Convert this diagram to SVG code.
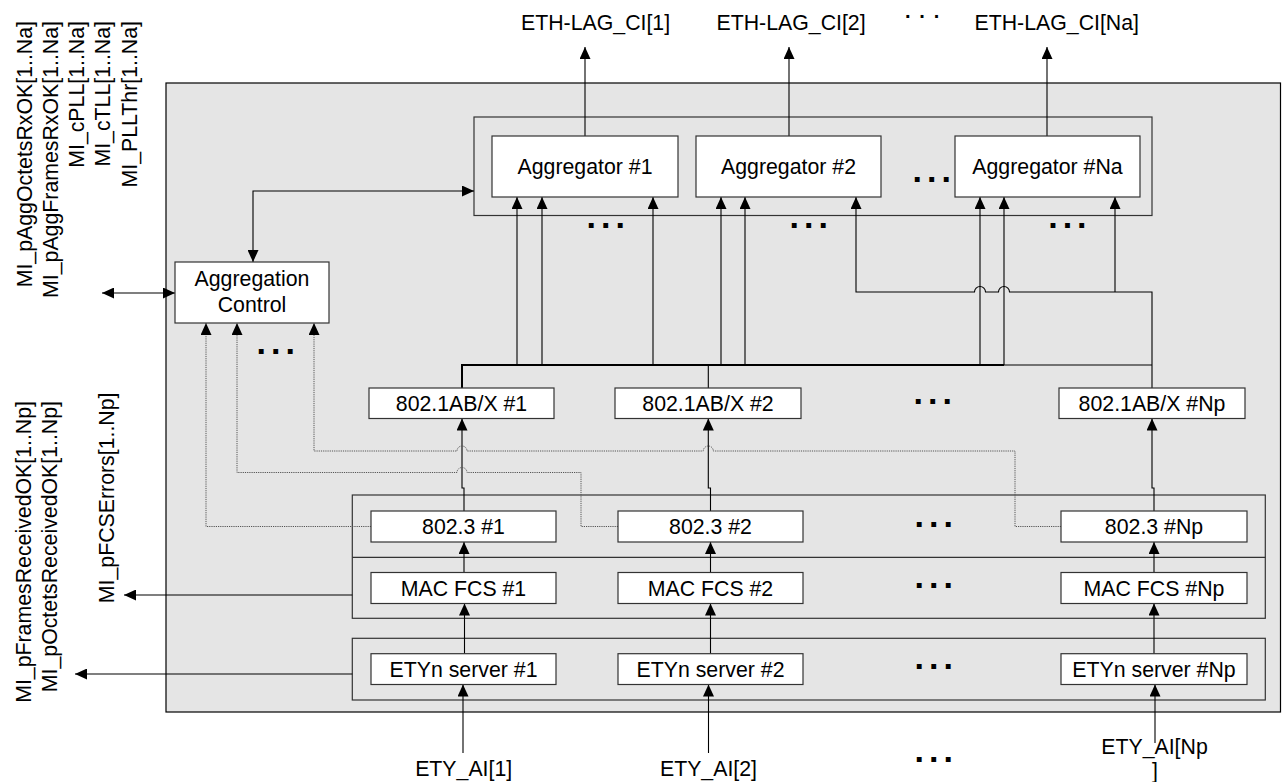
<svg xmlns="http://www.w3.org/2000/svg" width="1282" height="782" viewBox="0 0 1282 782">
<style>
text{font-family:"Liberation Sans",Arial,sans-serif;font-size:21.3px;fill:#000}
.c{text-anchor:middle}
.e{text-anchor:end}
.dots{font-family:"Liberation Sans",Arial,sans-serif;font-weight:bold;font-size:34px;letter-spacing:4.95px}
.dots-s{font-family:"Liberation Sans",Arial,sans-serif;font-weight:bold;font-size:20px;letter-spacing:8.8px}
.box{fill:#fff;stroke:#333;stroke-width:1.2}
.cont{fill:none;stroke:#333;stroke-width:1.2}
.w{fill:none;stroke:#000;stroke-width:1.1}
.bus{fill:none;stroke:#000;stroke-width:2}
.d{fill:none;stroke:#555;stroke-width:1;stroke-dasharray:1.2 1}
</style>
<defs>
<marker id="ah" markerUnits="userSpaceOnUse" markerWidth="12" markerHeight="11" refX="12" refY="5.5" orient="auto-start-reverse" viewBox="0 0 12 11">
<path d="M0,0 L12,5.5 L0,11 Z" fill="#000"/>
</marker>
</defs>
<rect width="1282" height="782" fill="#fff"/>
<rect id="outer" x="166" y="83" width="1114.5" height="629" fill="#e5e5e5" stroke="#000" stroke-width="1.2"/>

<g id="aggregator-group"><rect class="cont" x="474" y="117" width="678" height="98.5"/></g>
<g id="mac-container"><rect class="cont" x="352.3" y="495" width="913" height="123.3"/><line x1="352.3" y1="557.3" x2="1265.3" y2="557.3" stroke="#333" stroke-width="1.2"/></g>
<g id="ety-container"><rect class="cont" x="352.3" y="638.3" width="913" height="61.7"/></g>

<g id="connectors">
<path class="w" d="M585,136 V47" marker-end="url(#ah)"/>
<path class="w" d="M789,136 V47" marker-end="url(#ah)"/>
<path class="w" d="M1047,136 V47" marker-end="url(#ah)"/>
<path class="w" d="M474,191 H253 V262" marker-start="url(#ah)" marker-end="url(#ah)"/>
<path class="w" d="M102,293 H175" marker-start="url(#ah)" marker-end="url(#ah)"/>
<path class="bus" d="M462,388 V365 H1004"/>
<path class="w" d="M1004,365 H1152"/>
<path class="w" d="M708.3,388 V365"/>
<path class="w" d="M517,365 V197" marker-end="url(#ah)"/>
<path class="w" d="M542,365 V197" marker-end="url(#ah)"/>
<path class="w" d="M653,365 V197" marker-end="url(#ah)"/>
<path class="w" d="M721,365 V197" marker-end="url(#ah)"/>
<path class="w" d="M745,365 V197" marker-end="url(#ah)"/>
<path class="w" d="M980,365 V197" marker-end="url(#ah)"/>
<path class="w" d="M1004,365 V197" marker-end="url(#ah)"/>
<path class="w" d="M1152,388 V292 H1009.5 A5.5,5.5 0 0 0 998.5,292 H985.5 A5.5,5.5 0 0 0 974.5,292 H856 V197" marker-end="url(#ah)"/>
<path class="w" d="M1115,292 V197" marker-end="url(#ah)"/>
<path class="w" d="M464,511 V488 H462 V418.5" marker-end="url(#ah)"/>
<path class="w" d="M710.5,511 V488 H708.3 V418.5" marker-end="url(#ah)"/>
<path class="w" d="M1154,511 V488 H1152 V418.5" marker-end="url(#ah)"/>
<path class="w" d="M464,572.5 V542" marker-end="url(#ah)"/>
<path class="w" d="M710.5,572.5 V542" marker-end="url(#ah)"/>
<path class="w" d="M1154,572.5 V542" marker-end="url(#ah)"/>
<path class="w" d="M464.5,653.7 V603.5" marker-end="url(#ah)"/>
<path class="w" d="M710.5,653.7 V603.5" marker-end="url(#ah)"/>
<path class="w" d="M1154,653.7 V603.5" marker-end="url(#ah)"/>
<path class="w" d="M463,753 V684.5" marker-end="url(#ah)"/>
<path class="w" d="M708.5,753 V684.5" marker-end="url(#ah)"/>
<path class="w" d="M1155,743 V684.5" marker-end="url(#ah)"/>
<path class="w" d="M352.3,595 H124" marker-end="url(#ah)"/>
<path class="w" d="M352.3,674 H75" marker-end="url(#ah)"/>
<path class="d" d="M371,526.5 H206 V323" marker-end="url(#ah)"/>
<path class="d" d="M618,526.5 H581 V472.5 H467 A5,5 0 0 0 457,472.5 H237 V323" marker-end="url(#ah)"/>
<path class="d" d="M1061,526.5 H1015 V451 H713.3 A5,5 0 0 0 703.3,451 H467 A5,5 0 0 0 457,451 H314 V323" marker-end="url(#ah)"/>
</g>

<g id="agg1"><rect class="box" x="492" y="136" width="186" height="61"/><text class="c" x="585" y="174">Aggregator #1</text></g>
<g id="agg2"><rect class="box" x="696" y="136" width="185" height="61"/><text class="c" x="788.5" y="174">Aggregator #2</text></g>
<g id="aggNa"><rect class="box" x="955" y="136" width="185" height="61"/><text class="c" x="1047.5" y="174">Aggregator #Na</text></g>
<g id="aggctrl"><rect class="box" x="175" y="262" width="154" height="61" stroke="#000"/><text class="c" x="252" y="286">Aggregation</text><text class="c" x="252" y="312">Control</text></g>

<g id="ab1"><rect class="box" x="369" y="388" width="185" height="30.5"/><text class="c" x="461.5" y="411">802.1AB/X #1</text></g>
<g id="ab2"><rect class="box" x="615" y="388" width="186" height="30.5"/><text class="c" x="708" y="411">802.1AB/X #2</text></g>
<g id="abNp"><rect class="box" x="1059" y="388" width="186" height="30.5"/><text class="c" x="1152" y="411">802.1AB/X #Np</text></g>

<g id="e1"><rect class="box" x="371" y="511" width="185" height="31"/><text class="c" x="463.5" y="534">802.3 #1</text></g>
<g id="e2"><rect class="box" x="618" y="511" width="185" height="31"/><text class="c" x="710.5" y="534">802.3 #2</text></g>
<g id="eNp"><rect class="box" x="1061" y="511" width="186" height="31"/><text class="c" x="1154" y="534">802.3 #Np</text></g>

<g id="m1"><rect class="box" x="371" y="572.5" width="185" height="31"/><text class="c" x="463.5" y="595.5">MAC FCS #1</text></g>
<g id="m2"><rect class="box" x="618" y="572.5" width="185" height="31"/><text class="c" x="710.5" y="595.5">MAC FCS #2</text></g>
<g id="mNp"><rect class="box" x="1061" y="572.5" width="186" height="31"/><text class="c" x="1154" y="595.5">MAC FCS #Np</text></g>

<g id="s1"><rect class="box" x="371" y="653.7" width="185" height="30.8"/><text class="c" x="463.5" y="676.7">ETYn server #1</text></g>
<g id="s2"><rect class="box" x="618" y="653.7" width="185" height="30.8"/><text class="c" x="710.5" y="676.7">ETYn server #2</text></g>
<g id="sNp"><rect class="box" x="1061" y="653.7" width="186" height="30.8"/><text class="c" x="1154" y="676.7">ETYn server #Np</text></g>

<g id="labels">
<text x="521" y="29.5">ETH-LAG_CI[1]</text>
<text x="716.5" y="29.5">ETH-LAG_CI[2]</text>
<text x="974.5" y="29.5">ETH-LAG_CI[Na]</text>
<text class="c" x="463.7" y="776">ETY_AI[1]</text>
<text class="c" x="708.5" y="776">ETY_AI[2]</text>
<text class="c" x="1154.5" y="754">ETY_AI[Np</text>
<text class="c" x="1155" y="778">]</text>
<text class="e" transform="translate(31.5,21) rotate(-90)">MI_pAggOctetsRxOK[1..Na]</text>
<text class="e" transform="translate(58,21) rotate(-90)">MI_pAggFramesRxOK[1..Na]</text>
<text class="e" transform="translate(84,21) rotate(-90)">MI_cPLL[1..Na]</text>
<text class="e" transform="translate(110,21) rotate(-90)">MI_cTLL[1..Na]</text>
<text class="e" transform="translate(137,21) rotate(-90)">MI_PLLThr[1..Na]</text>
<text class="e" transform="translate(30.7,401) rotate(-90)">MI_pFramesReceivedOK[1..Np]</text>
<text class="e" transform="translate(57,401) rotate(-90)">MI_pOctetsReceivedOK[1..Np]</text>
<text class="e" transform="translate(113.5,392.5) rotate(-90)">MI_pFCSErrors[1..Np]</text>
</g>

<g id="ellipses">
<text class="dots-s" x="905" y="18.3">...</text>
<text class="dots" x="586.6" y="228">...</text>
<text class="dots" x="789.6" y="228">...</text>
<text class="dots" x="912.6" y="182">...</text>
<text class="dots" x="1048.3" y="228">...</text>
<text class="dots" x="256.6" y="354">...</text>
<text class="dots" x="913.6" y="404">...</text>
<text class="dots" x="914.6" y="526.7">...</text>
<text class="dots" x="914.6" y="588">...</text>
<text class="dots" x="914.6" y="669">...</text>
<text class="dots" x="914.6" y="761.7">...</text>
</g>
</svg>
